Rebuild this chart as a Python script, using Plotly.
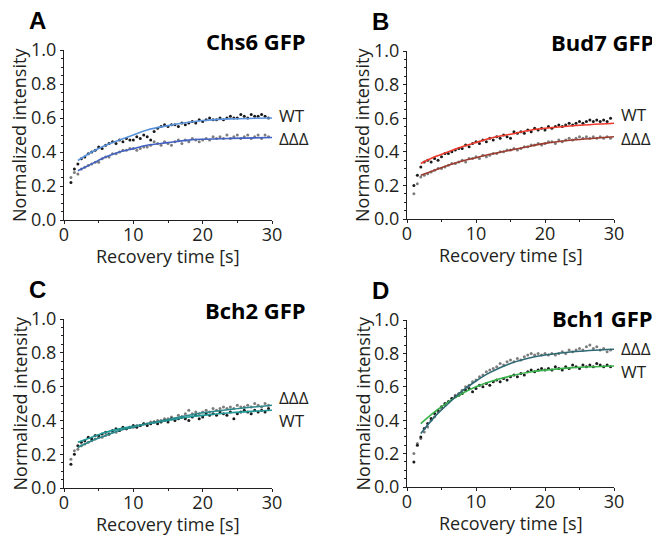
import plotly.graph_objects as go

# ---------------- data ----------------
T = [1.0, 1.5, 2.0, 2.5, 3.0, 3.5, 4.0, 4.5, 5.0, 5.5, 6.0, 6.5, 7.0, 7.5, 8.0, 8.5, 9.0, 9.5,
     10.0, 10.5, 11.0, 11.5, 12.0, 12.5, 13.0, 13.5, 14.0, 14.5, 15.0, 15.5, 16.0, 16.5, 17.0, 17.5,
     18.0, 18.5, 19.0, 19.5, 20.0, 20.5, 21.0, 21.5, 22.0, 22.5, 23.0, 23.5, 24.0, 24.5, 25.0, 25.5,
     26.0, 26.5, 27.0, 27.5, 28.0, 28.5, 29.0, 29.5]

# Panel A: Chs6 GFP
A_wt = [0.22, 0.30, 0.33, 0.36, 0.37, 0.39, 0.40, 0.41, 0.43, 0.42, 0.44, 0.45, 0.46, 0.45, 0.47, 0.46,
        0.48, 0.47, 0.47, 0.49, 0.48, 0.50, 0.49, 0.47, 0.52, 0.54, 0.55, 0.56, 0.55, 0.56, 0.56, 0.55,
        0.57, 0.56, 0.57, 0.58, 0.57, 0.59, 0.58, 0.59, 0.60, 0.59, 0.59, 0.60, 0.59, 0.60, 0.61, 0.60,
        0.60, 0.62, 0.61, 0.60, 0.62, 0.61, 0.61, 0.62, 0.61, 0.60]
A_ddd = [0.25, 0.28, 0.27, 0.30, 0.31, 0.32, 0.33, 0.34, 0.34, 0.36, 0.37, 0.37, 0.39, 0.39, 0.40, 0.41,
         0.41, 0.42, 0.42, 0.41, 0.42, 0.43, 0.43, 0.44, 0.46, 0.45, 0.44, 0.46, 0.45, 0.44, 0.46, 0.47,
         0.45, 0.47, 0.46, 0.48, 0.47, 0.46, 0.47, 0.48, 0.47, 0.49, 0.48, 0.49, 0.48, 0.50, 0.48, 0.49,
         0.50, 0.48, 0.49, 0.50, 0.48, 0.49, 0.50, 0.48, 0.50, 0.49]

# Panel B: Bud7 GFP
B_wt = [0.20, 0.26, 0.31, 0.34, 0.35, 0.34, 0.36, 0.35, 0.37, 0.39, 0.39, 0.40, 0.41, 0.42, 0.42, 0.44,
        0.43, 0.45, 0.46, 0.45, 0.47, 0.46, 0.48, 0.47, 0.49, 0.48, 0.50, 0.49, 0.48, 0.52, 0.51, 0.52,
        0.51, 0.53, 0.52, 0.54, 0.53, 0.54, 0.53, 0.55, 0.54, 0.55, 0.56, 0.55, 0.56, 0.57, 0.56, 0.57,
        0.58, 0.57, 0.58, 0.59, 0.58, 0.59, 0.58, 0.59, 0.58, 0.60]
B_ddd = [0.15, 0.21, 0.25, 0.26, 0.27, 0.28, 0.29, 0.30, 0.30, 0.31, 0.32, 0.33, 0.33, 0.34, 0.35, 0.34,
         0.36, 0.36, 0.37, 0.36, 0.38, 0.37, 0.38, 0.39, 0.39, 0.40, 0.40, 0.41, 0.41, 0.42, 0.41, 0.42,
         0.43, 0.43, 0.44, 0.44, 0.45, 0.44, 0.45, 0.46, 0.46, 0.45, 0.47, 0.46, 0.47, 0.48, 0.47, 0.48,
         0.49, 0.48, 0.49, 0.48, 0.49, 0.48, 0.49, 0.48, 0.49, 0.48]

# Panel C: Bch2 GFP
C_wt = [0.14, 0.20, 0.25, 0.27, 0.28, 0.30, 0.29, 0.31, 0.31, 0.32, 0.33, 0.32, 0.34, 0.35, 0.34, 0.36,
        0.35, 0.36, 0.37, 0.36, 0.37, 0.38, 0.37, 0.38, 0.39, 0.38, 0.39, 0.40, 0.39, 0.41, 0.40, 0.41,
        0.42, 0.41, 0.40, 0.42, 0.43, 0.41, 0.42, 0.44, 0.43, 0.44, 0.43, 0.45, 0.44, 0.43, 0.45, 0.41,
        0.44, 0.45, 0.46, 0.45, 0.44, 0.46, 0.45, 0.46, 0.45, 0.47]
C_ddd = [0.17, 0.22, 0.23, 0.25, 0.26, 0.27, 0.28, 0.29, 0.30, 0.30, 0.31, 0.32, 0.33, 0.33, 0.34, 0.35,
         0.35, 0.36, 0.36, 0.37, 0.37, 0.38, 0.38, 0.39, 0.39, 0.40, 0.40, 0.41, 0.41, 0.42, 0.41, 0.43,
         0.42, 0.44, 0.46, 0.44, 0.45, 0.44, 0.45, 0.46, 0.45, 0.47, 0.46, 0.47, 0.48, 0.47, 0.48, 0.47,
         0.49, 0.48, 0.48, 0.49, 0.48, 0.50, 0.49, 0.48, 0.50, 0.49]

# Panel D: Bch1 GFP
D_wt = [0.15, 0.25, 0.30, 0.35, 0.38, 0.41, 0.44, 0.46, 0.48, 0.50, 0.51, 0.53, 0.54, 0.55, 0.56, 0.58,
        0.59, 0.57, 0.59, 0.61, 0.60, 0.62, 0.61, 0.63, 0.64, 0.63, 0.65, 0.64, 0.66, 0.67, 0.66, 0.68,
        0.67, 0.69, 0.70, 0.69, 0.70, 0.71, 0.70, 0.71, 0.70, 0.72, 0.71, 0.70, 0.72, 0.71, 0.73, 0.72,
        0.71, 0.73, 0.72, 0.73, 0.72, 0.74, 0.73, 0.72, 0.73, 0.72]
D_ddd = [0.20, 0.26, 0.29, 0.33, 0.36, 0.40, 0.42, 0.45, 0.47, 0.49, 0.51, 0.53, 0.55, 0.56, 0.58, 0.60,
         0.61, 0.63, 0.64, 0.66, 0.67, 0.69, 0.70, 0.71, 0.72, 0.74, 0.73, 0.75, 0.76, 0.75, 0.77, 0.76,
         0.78, 0.79, 0.80, 0.79, 0.80, 0.79, 0.80, 0.79, 0.80, 0.79, 0.80, 0.81, 0.80, 0.82, 0.81, 0.82,
         0.83, 0.82, 0.84, 0.85, 0.83, 0.84, 0.82, 0.83, 0.81, 0.82]

# fitted curves (read at these times)
FIT_T = [2, 4, 6, 8, 10, 12, 15, 18, 20, 24, 30]
A_wt_fit = [0.35, 0.40, 0.44, 0.47, 0.50, 0.53, 0.555, 0.575, 0.585, 0.595, 0.60]
A_ddd_fit = [0.29, 0.33, 0.37, 0.40, 0.42, 0.44, 0.455, 0.47, 0.475, 0.48, 0.485]
B_wt_fit = [0.33, 0.37, 0.40, 0.43, 0.455, 0.48, 0.505, 0.53, 0.54, 0.555, 0.57]
B_ddd_fit = [0.26, 0.29, 0.32, 0.345, 0.365, 0.385, 0.41, 0.435, 0.45, 0.47, 0.49]
C_wt_fit = [0.27, 0.30, 0.33, 0.35, 0.365, 0.38, 0.40, 0.42, 0.43, 0.445, 0.46]
C_ddd_fit = [0.24, 0.28, 0.31, 0.34, 0.36, 0.38, 0.405, 0.43, 0.445, 0.465, 0.49]
D_wt_fit = [0.38, 0.45, 0.51, 0.56, 0.60, 0.63, 0.665, 0.69, 0.70, 0.715, 0.725]
D_ddd_fit = [0.32, 0.42, 0.50, 0.575, 0.635, 0.685, 0.74, 0.775, 0.79, 0.81, 0.825]

Y_TICKS = [0.0, 0.2, 0.4, 0.6, 0.8, 1.0]
X_TICKS = [0, 10, 20, 30]

panels = [
    dict(letter="A", title="Chs6 GFP", wt=A_wt, ddd=A_ddd, wtfit=A_wt_fit, dddfit=A_ddd_fit,
         wtcol="#5a93dc", dddcol="#4262c4", wtlab=0.615, dddlab=0.48),
    dict(letter="B", title="Bud7 GFP", wt=B_wt, ddd=B_ddd, wtfit=B_wt_fit, dddfit=B_ddd_fit,
         wtcol="#ee3a2c", dddcol="#9c3b2e", wtlab=0.62, dddlab=0.48),
    dict(letter="C", title="Bch2 GFP", wt=C_wt, ddd=C_ddd, wtfit=C_wt_fit, dddfit=C_ddd_fit,
         wtcol="#1f9a98", dddcol="#2b8a8c", wtlab=0.40, dddlab=0.535),
    dict(letter="D", title="Bch1 GFP", wt=D_wt, ddd=D_ddd, wtfit=D_wt_fit, dddfit=D_ddd_fit,
         wtcol="#38b24a", dddcol="#2f6a74", wtlab=0.69, dddlab=0.83),
]

# page body has an 8px margin: figure is drawn 8px in from the window corner
OFF = 8
W, H = 660 - OFF, 536 - OFF
# plot-area screen pixel boxes (left, right, top, bottom)
boxes = [(64, 272, 50, 220), (407, 614, 51, 219), (64, 272, 319, 488), (407, 614, 320, 487)]
# title placement (right edge x, centre y) in screen pixels
title_pos = [(308, 41), (656, 42), (308, 310), (655, 318)]


def PX(x):
    return (x - OFF) / W


def PY(y):
    return 1 - (y - OFF) / H


FONT = "'Open Sans', sans-serif"
AXC = "#231f20"

fig = go.Figure()
annotations = []

for i, (p, (l, r, t, b)) in enumerate(zip(panels, boxes)):
    k = "" if i == 0 else str(i + 1)
    xa, ya = "x" + k, "y" + k
    # dots
    fig.add_trace(go.Scatter(x=T, y=p["ddd"], mode="markers", xaxis=xa, yaxis=ya,
                             marker=dict(size=3, color="#7d7d7d"), showlegend=False, cliponaxis=False))
    fig.add_trace(go.Scatter(x=T, y=p["wt"], mode="markers", xaxis=xa, yaxis=ya,
                             marker=dict(size=3, color="#1a1a1a"), showlegend=False, cliponaxis=False))
    # fits
    fig.add_trace(go.Scatter(x=FIT_T, y=p["wtfit"], mode="lines", xaxis=xa, yaxis=ya,
                             line=dict(color=p["wtcol"], width=1.6, shape="spline"), showlegend=False))
    fig.add_trace(go.Scatter(x=FIT_T, y=p["dddfit"], mode="lines", xaxis=xa, yaxis=ya,
                             line=dict(color=p["dddcol"], width=1.6, shape="spline"), showlegend=False))

    axcommon = dict(showline=True, linecolor=AXC, linewidth=1.3, showgrid=False, zeroline=False,
                    ticks="outside", tickcolor=AXC, tickwidth=1, ticklen=3, automargin=False,
                    tickfont=dict(family=FONT, size=18, color="#231f20"))
    fig.update_layout(**{
        "xaxis" + k: dict(axcommon, domain=[PX(l), PX(r)], range=[0, 30], tickvals=X_TICKS,
                          anchor=ya, ticklabelstandoff=-5,
                          minor=dict(dtick=5, ticklen=2, ticks="outside", tickcolor=AXC)),
        "yaxis" + k: dict(axcommon, domain=[PY(b), PY(t)], range=[0, 1], tickvals=Y_TICKS,
                          tickformat=".1f", anchor=xa,
                          minor=dict(dtick=0.05, ticklen=2, ticks="outside", tickcolor=AXC)),
    })

    tx, ty = title_pos[i]
    # panel letter
    annotations.append(dict(text=p["letter"], xref="paper", yref="paper", x=PX(l - 37), y=PY(t - 30),
                            xanchor="left", yanchor="middle", showarrow=False, height=22,
                            font=dict(family="Liberation Sans, Arial", size=24, color="black", weight="bold")))
    # panel title
    annotations.append(dict(text=p["title"], xref="paper", yref="paper", x=PX(tx), y=PY(ty),
                            xanchor="right", yanchor="middle", showarrow=False, height=24,
                            font=dict(family=FONT, size=22, color="black", weight="bold")))
    # axis titles
    annotations.append(dict(text="Recovery time [s]", xref="paper", yref="paper", x=PX((l + r) / 2),
                            y=PY(b + 36), xanchor="center", yanchor="middle", showarrow=False,
                            font=dict(family=FONT, size=18, color="#231f20")))
    annotations.append(dict(text="Normalized intensity", xref="paper", yref="paper", x=PX(l - 45),
                            y=PY((t + b) / 2), xanchor="center", yanchor="middle", showarrow=False,
                            textangle=-90, font=dict(family=FONT, size=18, color="#231f20")))
    # series labels
    annotations.append(dict(text="WT", xref=xa, yref=ya, x=30, y=p["wtlab"], xanchor="left", xshift=5,
                            yanchor="middle", showarrow=False,
                            font=dict(family=FONT, size=17, color="#231f20")))
    annotations.append(dict(text="ΔΔΔ", xref=xa, yref=ya, x=30, y=p["dddlab"], xanchor="left", xshift=5,
                            yanchor="middle", showarrow=False,
                            font=dict(family=FONT, size=17, color="#231f20")))

fig.update_layout(width=W, height=H, margin=dict(l=0, r=0, t=0, b=0, pad=0),
                  plot_bgcolor="white", paper_bgcolor="white", annotations=annotations,
                  font=dict(family=FONT))

fig.write_html("out.html")
